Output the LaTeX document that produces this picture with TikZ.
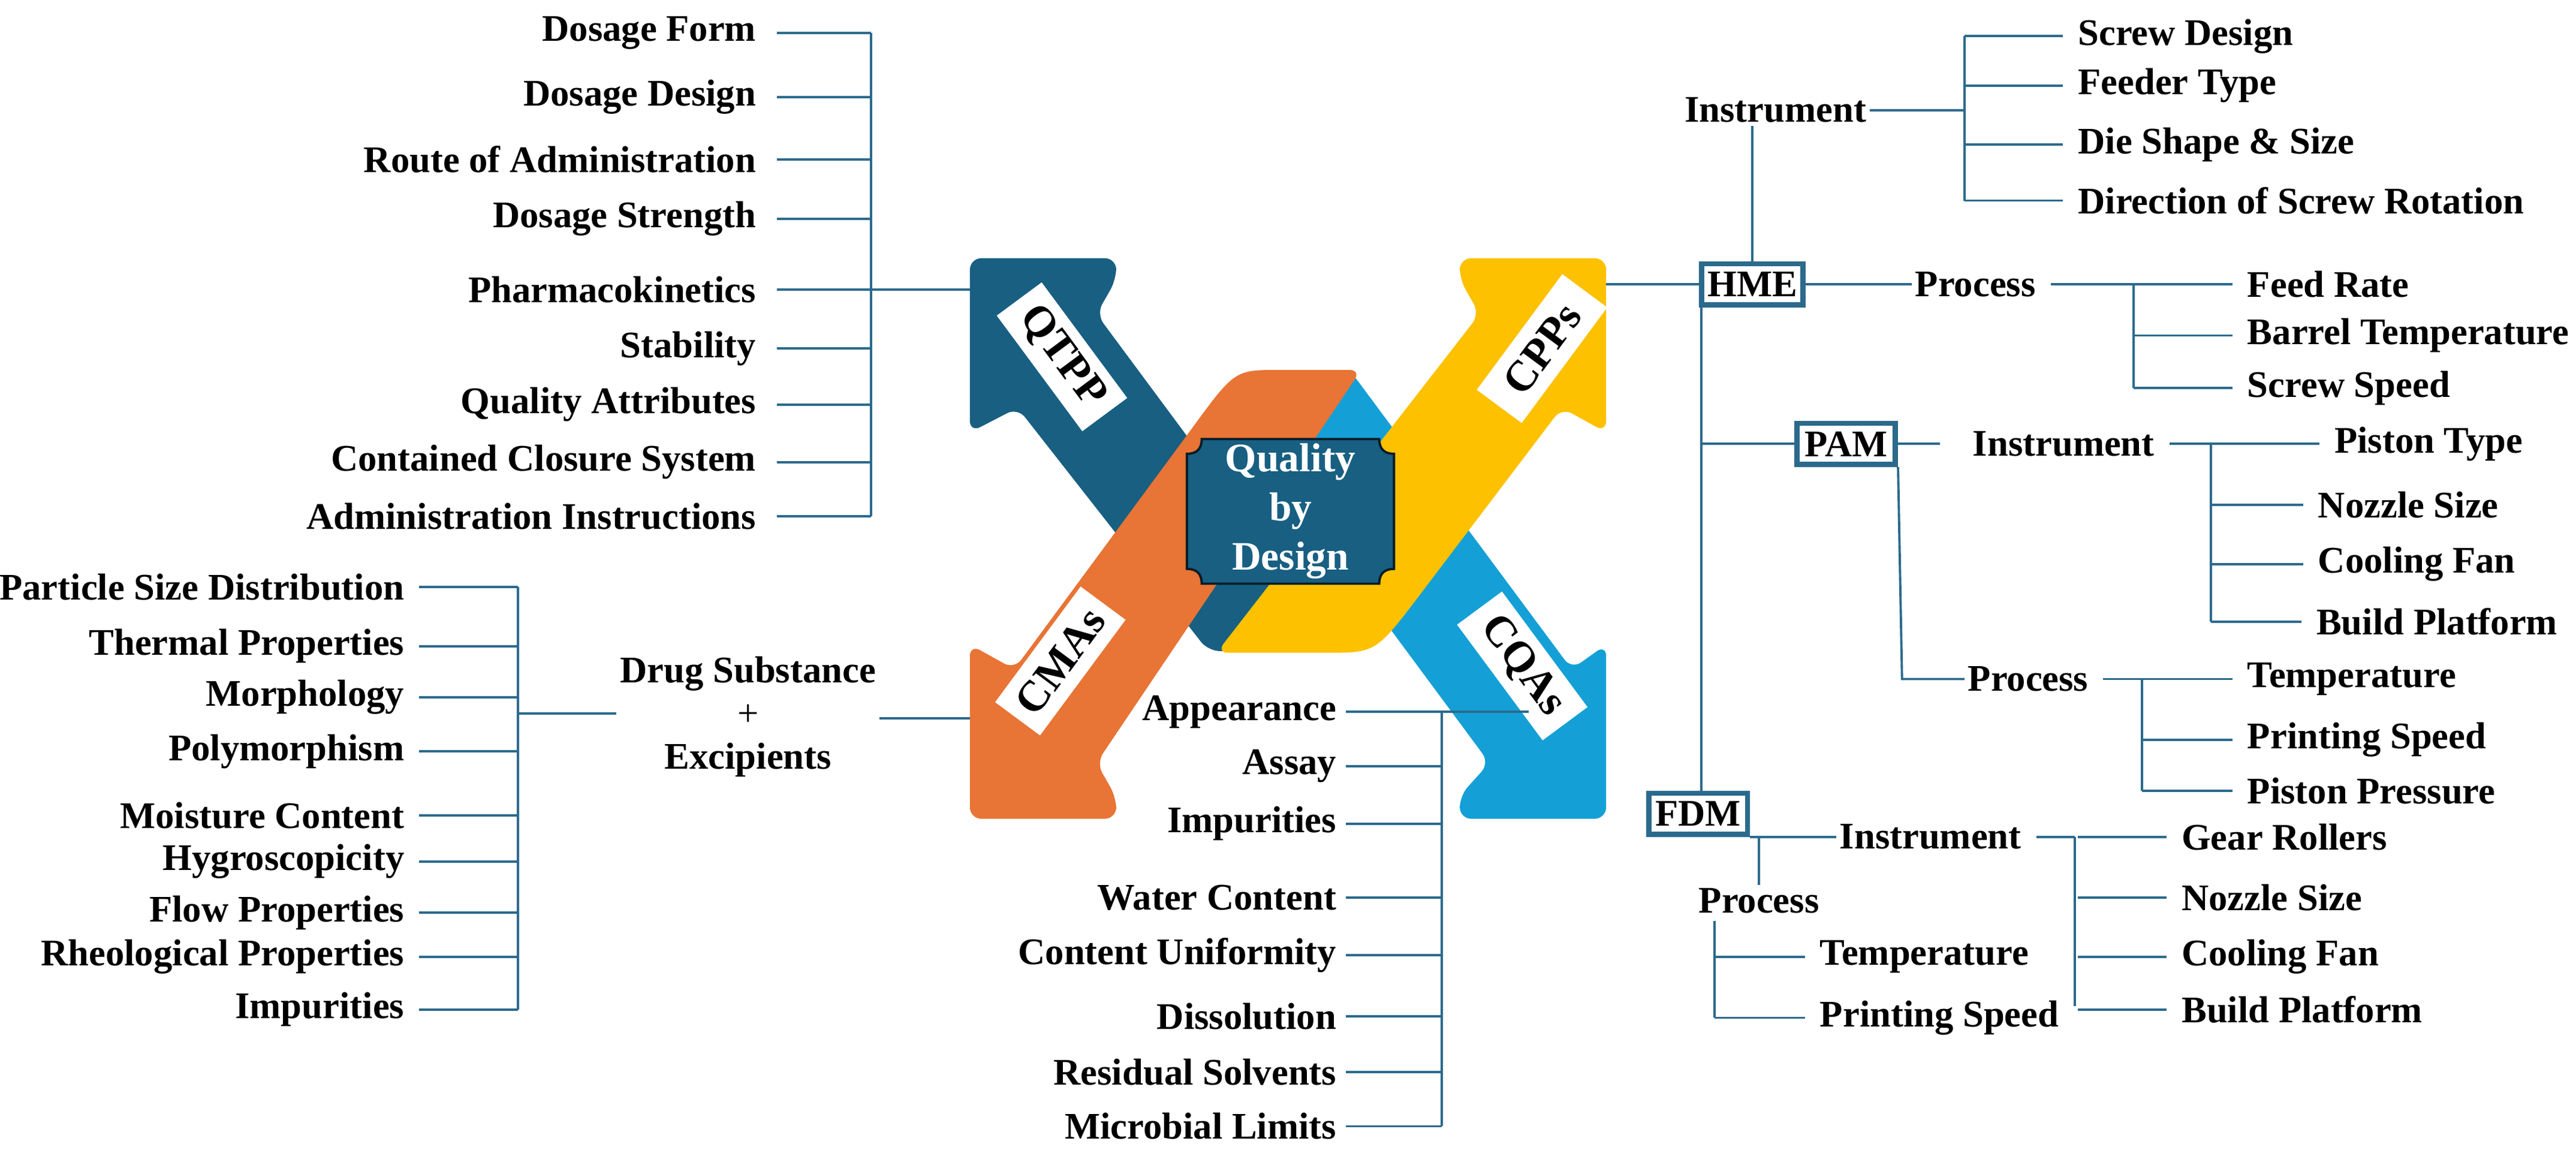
\documentclass[tikz,border=0pt]{standalone}
\usepackage{fontspec}
\setmainfont{Liberation Serif}
\definecolor{qdark}{HTML}{185F82}
\definecolor{qlight}{HTML}{14A0D6}
\definecolor{qorange}{HTML}{E87435}
\definecolor{qyellow}{HTML}{FDC100}
\definecolor{qline}{HTML}{2B6A8C}
\tikzset{
  txt/.style={font=\bfseries\fontsize{13}{15}\selectfont, inner sep=1pt},
  tag/.style={fill=white, font=\bfseries\fontsize{15}{17}\selectfont, minimum width=1.75cm, minimum height=0.68cm, inner sep=1pt},
  box/.style={draw=qline, line width=1.8pt, fill=white, font=\bfseries\fontsize{13}{15}\selectfont, minimum width=1.2cm, minimum height=0.5cm, inner sep=2pt},
  br/.style={draw=qline, line width=0.8pt}
}
\begin{document}
\begin{tikzpicture}[x=0.02cm, y=-0.02cm]
    \useasboundingbox (0,0) rectangle (1567,701);
    % the four arrows
    \fill[qdark, rounded corners=4] (590,157) -- (679,157) -- (679,170) -- (667,191) -- (819,396) -- (735,396) -- (619,248) -- (590,263) -- cycle;
    \fill[qlight, rounded corners=4] (977,498) -- (888,498) -- (888,484) -- (906,464) -- (755,260) -- (821,225) -- (956,407) -- (977,392) -- cycle;
    \fill[qorange, rounded corners=4] (590,498) -- (679,498) -- (679,485) -- (667,464) -- (828,225) -- (785,225) [sharp corners] .. controls (751,225) .. (724,262) [rounded corners=4] -- (617,407) -- (590,392) -- cycle;
    \fill[qyellow, rounded corners=4] (977,157) -- (888,157) -- (888,170) -- (900,191) -- (740,397) -- (800,397) [sharp corners] .. controls (837,397) .. (865,360) [rounded corners=4] -- (950,248) -- (977,263) -- cycle;
    \node[tag, rotate=-53.5] (qtpp) at (646,217) {QTPP};
    \node[tag, rotate=53.5] (cpps) at (938,212) {CPPs};
    \node[tag, rotate=53.5] (cmas) at (645,402) {CMAs};
    \node[tag, rotate=-53.5] (cqas) at (926,405) {CQAs};
    \filldraw[fill=qdark, draw=black!70!qdark, line width=0.8pt] (731,267) -- (839,267) .. controls (839,273) and (842,276) .. (848,276) -- (848,346) .. controls (842,346) and (839,349) .. (839,355) -- (731,355) .. controls (731,349) and (728,346) .. (722,346) -- (722,276) .. controls (728,276) and (731,273) .. (731,267) -- cycle;
    \node[txt, text=white, align=center, font=\bfseries\fontsize{14}{17}\selectfont] (qbd) at (785,311) {Quality\\by\\Design};
    % QTPP
    \foreach \t/\y [count=\i] in {Dosage Form/20, Dosage Design/59, Route of Administration/97, Dosage Strength/133, Pharmacokinetics/176, Stability/212, Quality Attributes/246, Contained Closure System/281, Administration Instructions/314}
        \node[txt, anchor=east] (q\i) at (462,\y) {\t};
    \foreach \i in {1,...,9}
        \draw[br] ([xshift=6pt]q\i.east) -- (530,0 |- q\i.east);
    \draw[br] (530,20) -- (530,314);
    \draw[br] (530,176) -- (590,176);
    % CMAs
    \foreach \t/\y [count=\i] in {Particle Size Distribution/357, Thermal Properties/393, Morphology/424, Polymorphism/457, Moisture Content/496, Hygroscopicity/524, Flow Properties/555, Rheological Properties/582, Impurities/614}
        \node[txt, anchor=east] (m\i) at (248,\y) {\t};
    \foreach \i in {1,...,9}
        \draw[br] ([xshift=4pt]m\i.east) -- (315,0 |- m\i.east);
    \draw[br] (315,357) -- (315,614);
    \node[txt, align=center] (drug) at (455,436) {Drug Substance\\{\mdseries +}\\Excipients};
    \draw[br] (315,434) -- (375,434);
    \draw[br] (535,437) -- (590,437);
    % CQAs
    \foreach \t/\y [count=\i] in {Appearance/433, Assay/466, Impurities/501, Water Content/546, Content Uniformity/581, Dissolution/618, Residual Solvents/652, Microbial Limits/685}
        \node[txt, anchor=east] (c\i) at (815,\y) {\t};
    \foreach \i in {1,...,8}
        \draw[br] ([xshift=2pt]c\i.east) -- (877,0 |- c\i.east);
    \draw[br] (877,433) -- (877,685);
    \draw[br] (877,433) -- (930,433);
    % CPPs
    \node[box] (hme) at (1066,173) {HME};
    \draw[br] (977,173) -- (hme.west);
    \node[txt] (hmei) at (1080,67) {Instrument};
    \draw[br] (hme.north) -- (hmei.south -| hme.north);
    \draw[br] (hmei.east) -- (1195,67);
    \draw[br] (1195,22) -- (1195,122);
    \foreach \t/\y [count=\i] in {Screw Design/22, Feeder Type/52, Die Shape \& Size/88, Direction of Screw Rotation/122} {
        \node[txt, anchor=west] (hi\i) at (1262,\y) {\t};
        \draw[br] (1195,\y) -- ([xshift=-4pt]hi\i.west);
    }
    \node[txt, anchor=west] (hmep) at (1163,173) {Process};
    \draw[br] (hme.east) -- (hmep.west);
    \draw[br] ([xshift=4pt]hmep.east) -- (1298,173);
    \draw[br] (1298,173) -- (1298,236);
    \foreach \t/\y [count=\i] in {Feed Rate/173, Barrel Temperature/204, Screw Speed/236} {
        \node[txt, anchor=west] (hp\i) at (1365,\y) {\t};
        \draw[br] (1298,\y) -- ([xshift=-4pt]hp\i.west);
    }
    \node[box] (pam) at (1123,270) {PAM};
    \node[box] (fdm) at (1033,495) {FDM};
    \draw[br] (1035,186) -- (1035,0 |- fdm.north);
    \draw[br] (1035,270) -- (pam.west);
    \node[txt, anchor=west] (pami) at (1198,270) {Instrument};
    \draw[br] (pam.east) -- (1180,270);
    \draw[br] ([xshift=4pt]pami.east) -- (1345,270);
    \draw[br] (1345,270) -- (1345,378);
    \foreach \t/\x/\y [count=\i] in {Piston Type/1418/270, Nozzle Size/1408/307, Cooling Fan/1408/343, Build Platform/1407/378} {
        \node[txt, anchor=west] (pi\i) at (\x,\y) {\t};
        \draw[br] (1345,\y) -- ([xshift=-4pt]pi\i.west);
    }
    \node[txt, anchor=west] (pamp) at (1195,413) {Process};
    \draw[br] (pam.south east) -- (1157,413) -- (pamp.west);
    \draw[br] ([xshift=4pt]pamp.east) -- (1303,413);
    \draw[br] (1303,413) -- (1303,481);
    \foreach \t/\y [count=\i] in {Temperature/413, Printing Speed/450, Piston Pressure/481} {
        \node[txt, anchor=west] (pp\i) at (1365,\y) {\t};
        \draw[br] (1303,\y) -- ([xshift=-4pt]pp\i.west);
    }
    \node[txt, anchor=west] (fdmi) at (1117,509) {Instrument};
    \draw[br] (fdm.east |- fdmi.west) -- (fdmi.west);
    \draw[br] ([xshift=4pt]fdmi.east) -- (1262,509);
    \draw[br] (1262,509) -- (1262,612);
    \foreach \t/\y [count=\i] in {Gear Rollers/509, Nozzle Size/546, Cooling Fan/582, Build Platform/614} {
        \node[txt, anchor=west] (fi\i) at (1325,\y) {\t};
        \draw[br] (1264,\y) -- ([xshift=-4pt]fi\i.west);
    }
    \node[txt] (fdmp) at (1070,548) {Process};
    \draw[br] (1070,0 |- fdm.south) -- (fdmp.north);
    \draw[br] (1043,560) -- (1043,619);
    \foreach \t/\y [count=\i] in {Temperature/582, Printing Speed/619} {
        \node[txt, anchor=west] (fp\i) at (1105,\y) {\t};
        \draw[br] (1043,\y) -- ([xshift=-4pt]fp\i.west);
    }
\end{tikzpicture}
\end{document}
